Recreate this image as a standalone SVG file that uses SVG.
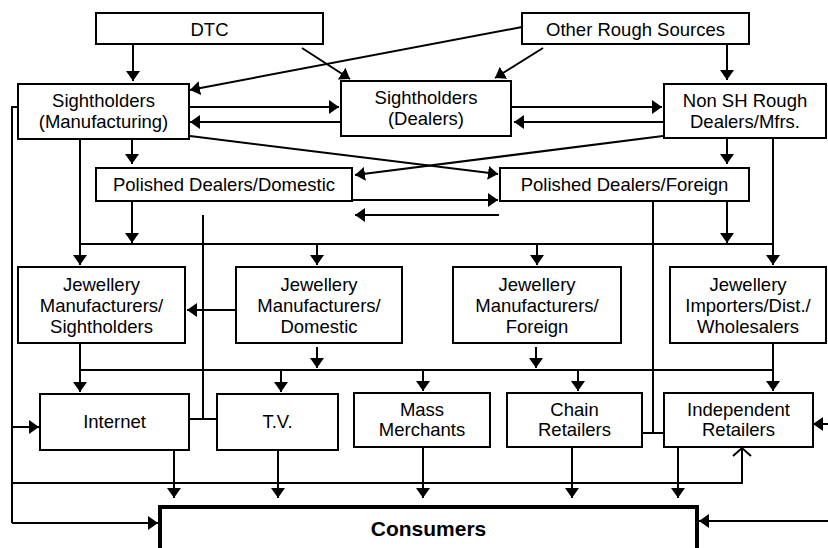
<svg xmlns="http://www.w3.org/2000/svg" width="828" height="548" viewBox="0 0 828 548">
<style>
.b{fill:#fff;stroke:#000;stroke-width:2}
.t{font-family:"Liberation Sans",Arial,sans-serif;font-size:18.5px;fill:#000;text-anchor:middle}
.c{fill:none;stroke:#000;stroke-width:2}
.a{fill:none;stroke:#000;stroke-width:2;marker-end:url(#ah)}
</style>
<defs>
<marker id="ah" markerUnits="userSpaceOnUse" markerWidth="11" markerHeight="14" refX="10" refY="7" orient="auto">
<path d="M0,0 L10,7 L0,14 z" fill="#000"/>
</marker>
</defs>
<rect width="828" height="548" fill="#fff"/>
<g id="connectors">
<path class="a" d="M133,44 V81"/>
<path class="a" d="M302,48 L350,79"/>
<path class="a" d="M522,27 L190,90"/>
<path class="a" d="M543,48 L495,78"/>
<path class="a" d="M727,44 V80"/>
<path class="a" d="M189,107 H339"/>
<path class="a" d="M341,122 H190"/>
<path class="a" d="M511,107 H662"/>
<path class="a" d="M664,122 H514"/>
<path class="a" d="M190,136 L498,174"/>
<path class="a" d="M663,136 L355,175"/>
<path class="a" d="M80,139 V265"/>
<path class="a" d="M132,139 V164"/>
<path class="a" d="M132,201 V243"/>
<path class="c" d="M80,244 H773"/>
<path class="a" d="M317,244 V265"/>
<path class="a" d="M537,244 V265"/>
<path class="a" d="M727,138 V164"/>
<path class="a" d="M727,201 V243"/>
<path class="a" d="M773,138 V265"/>
<path class="a" d="M352,200 H498"/>
<path class="a" d="M499,215 H355"/>
<path class="c" d="M203,215 V419 M189,419 H217"/>
<path class="a" d="M236,310 H187"/>
<path class="c" d="M653,201 V433 M642,433 H664"/>
<path class="a" d="M80,343 V392"/>
<path class="a" d="M317,347 V368"/>
<path class="a" d="M536,347 V368"/>
<path class="c" d="M80,370 H773"/>
<path class="a" d="M281,370 V392"/>
<path class="a" d="M423,370 V391"/>
<path class="a" d="M578,370 V391"/>
<path class="a" d="M773,343 V391"/>
<path class="c" d="M18,107 H12 V523"/>
<path class="a" d="M12,427 H39"/>
<path class="a" d="M12,523 H158"/>
<path class="c" d="M12,483 H742 V448"/>
<path class="c" d="M733,456 L742,448 L751,456"/>
<path class="a" d="M174,450 V498"/>
<path class="a" d="M278,450 V498"/>
<path class="a" d="M423,447 V498"/>
<path class="a" d="M572,447 V498"/>
<path class="a" d="M678,447 V498"/>
<path class="a" d="M828,424 H813"/>
<path class="a" d="M828,521 H699"/>
</g>
<g id="dtc"><rect class="b" x="96" y="13" width="227" height="31"/><text class="t" x="209.5" y="35.5">DTC</text></g>
<g id="other-rough"><rect class="b" x="522" y="13" width="227" height="31"/><text class="t" x="635.5" y="35.5">Other Rough Sources</text></g>
<g id="sh-mfg"><rect class="b" x="18" y="84" width="171" height="55"/><text class="t" x="103.5" y="107">Sightholders</text><text class="t" x="103.5" y="128">(Manufacturing)</text></g>
<g id="sh-dealers"><rect class="b" x="341" y="81" width="170" height="55"/><text class="t" x="426" y="104">Sightholders</text><text class="t" x="426" y="125">(Dealers)</text></g>
<g id="nonsh"><rect class="b" x="664" y="84" width="162" height="54"/><text class="t" x="745" y="107">Non SH Rough</text><text class="t" x="745" y="128">Dealers/Mfrs.</text></g>
<g id="pd-dom"><rect class="b" x="96" y="168" width="256" height="33"/><text class="t" x="224" y="191">Polished Dealers/Domestic</text></g>
<g id="pd-for"><rect class="b" x="500" y="168" width="249" height="33"/><text class="t" x="624.5" y="191">Polished Dealers/Foreign</text></g>
<g id="jm-sh"><rect class="b" x="18" y="267" width="167" height="76"/><text class="t" x="101.5" y="290.5">Jewellery</text><text class="t" x="101.5" y="311.5">Manufacturers/</text><text class="t" x="101.5" y="332.5">Sightholders</text></g>
<g id="jm-dom"><rect class="b" x="236" y="267" width="166" height="76"/><text class="t" x="319" y="290.5">Jewellery</text><text class="t" x="319" y="311.5">Manufacturers/</text><text class="t" x="319" y="332.5">Domestic</text></g>
<g id="jm-for"><rect class="b" x="453" y="267" width="168" height="76"/><text class="t" x="537" y="290.5">Jewellery</text><text class="t" x="537" y="311.5">Manufacturers/</text><text class="t" x="537" y="332.5">Foreign</text></g>
<g id="ji"><rect class="b" x="670" y="267" width="156" height="76"/><text class="t" x="748" y="290.5">Jewellery</text><text class="t" x="748" y="311.5">Importers/Dist./</text><text class="t" x="748" y="332.5">Wholesalers</text></g>
<g id="internet"><rect class="b" x="40" y="394" width="149" height="56"/><text class="t" x="114.5" y="428">Internet</text></g>
<g id="tv"><rect class="b" x="217" y="394" width="121" height="56"/><text class="t" x="277.5" y="428">T.V.</text></g>
<g id="mass"><rect class="b" x="354" y="393" width="136" height="54"/><text class="t" x="422" y="416">Mass</text><text class="t" x="422" y="436">Merchants</text></g>
<g id="chain"><rect class="b" x="507" y="393" width="135" height="54"/><text class="t" x="574.5" y="416">Chain</text><text class="t" x="574.5" y="436">Retailers</text></g>
<g id="indep"><rect class="b" x="664" y="393" width="149" height="54"/><text class="t" x="738.5" y="416">Independent</text><text class="t" x="738.5" y="436">Retailers</text></g>
<g id="consumers"><rect x="160" y="507" width="537" height="60" fill="#fff" stroke="#000" stroke-width="4"/><text x="428.5" y="536" font-family="Liberation Sans,Arial,sans-serif" font-size="21" font-weight="bold" text-anchor="middle">Consumers</text></g>
</svg>
